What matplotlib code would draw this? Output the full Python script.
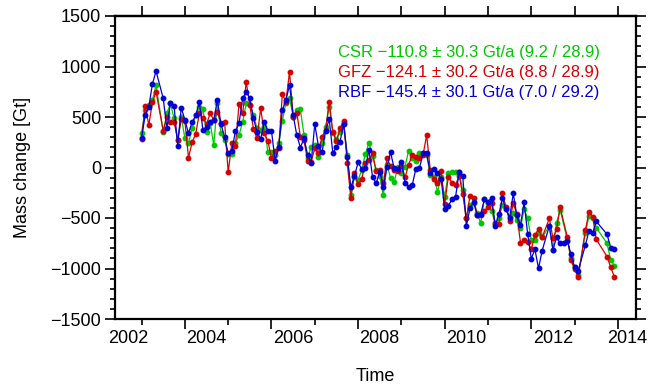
import numpy as np
import matplotlib.pyplot as plt
from matplotlib.ticker import MultipleLocator, NullFormatter

plt.rcParams['font.family'] = ['Liberation Sans', 'DejaVu Sans']

nan = np.nan

# monthly solutions, Jan 2003 .. Dec 2013 (nan = missing month)
time = 2003 + np.arange(132) / 12.0

csr = [345, 569, 619, 668, 813, nan, 351, 536, 635, 487, 272, 503,
       288, 239, 391, 520, 602, 576, 348, 444, 222, 635, 338, 272,
       133, 133, 239, 322, 447, 635, 619, 520, 388, 371, 404, 156,
       153, 127, 239, 463, 642, 688, 503, 569, 576, 322, 90, 206,
       223, 107, 239, 397, 602, 338, 279, 355, 437, 124, -273, -91,
       -124, -25, 130, 246, 114, -25, -84, -273, 25, -101, -144, 8,
       -58, 8, 166, 90, 64, 140, 140, 124, -75, -91, -240, -98,
       -289, -58, -48, -45, -48, -223, -504, -372, -355, -454, -553, -312,
       -355, -428, -560, -500, -372, -405, -487, -447, -520, -603, -414, -504,
       -718, -718, -645, -692, nan, -579, -817, -546, -421, nan, -718, -900,
       -982, -1065, nan, -645, -480, -504, -596, nan, nan, -751, -916, -972]

gfz = [282, 612, 420, 645, 750, nan, 364, 503, 454, 454, 272, 477,
       460, 97, 249, 331, 536, 493, 430, 536, 470, 553, 437, 450,
       -48, 239, 213, 625, 536, 846, 618, 381, 288, 586, 338, 262,
       91, 166, 190, 727, 651, 949, 503, 543, 305, 272, 67, 58,
       190, 140, 305, 371, 652, 355, 262, 388, 463, 41, -299, -51,
       -167, -117, 48, 74, 140, -35, -25, -157, 91, 15, -25, -32,
       18, -98, 25, 124, 107, 91, 124, 322, -25, -114, -150, -35,
       -362, -91, -150, -175, -80, -266, -504, -282, -299, -471, -471, -431,
       -388, -348, -553, -560, -256, -395, -530, -355, -461, -744, -718, -741,
       -810, -669, -609, -692, nan, -504, -702, -612, -395, nan, -692, -916,
       -1008, -1088, nan, -619, -438, -487, -711, nan, nan, -883, -989, -1080]

rbf = [292, 519, 602, 826, 955, nan, 684, 387, 642, 612, 216, 592,
       470, 338, 450, 516, 648, 371, 404, 454, 470, 668, 430, 298,
       140, 166, 358, 437, 684, 750, 684, 486, 355, 282, 454, 361,
       361, 67, 199, 569, 668, 816, 520, 322, 198, 288, 124, 48,
       430, 213, 150, 364, 477, 140, 206, 256, 430, 107, -197, -84,
       51, -15, -9, 173, -91, -157, -42, -197, 8, 150, -9, -18,
       58, -150, -190, -174, -15, -9, 140, 140, -51, -15, -51, -111,
       -414, -381, -315, -295, -46, -81, -579, -405, -339, -471, -457, -315,
       -339, -299, -579, -461, -306, -414, -497, -256, -474, -570, -345, -659,
       -903, -810, -999, -824, nan, -579, -817, -692, -751, -744, -725, -860,
       -989, -1022, nan, -768, -626, -652, -533, nan, nan, -662, -794, -807]

names = ['CSR', 'GFZ', 'RBF']
trend = [-110.8, -124.1, -145.4]
trend_err = [30.3, 30.2, 30.1]
stat_a = [9.2, 8.8, 7.0]
stat_b = [28.9, 28.9, 29.2]
colors = ['#00c800', '#d70000', '#0000d7']

year_labels = ['2002', '2004', '2006', '2008', '2010', '2012', '2014']

xmin, xmax = 2002.386, 2014.418

fig = plt.figure(figsize=(6.56, 3.87), dpi=100)
ax = fig.add_axes([115/656, 1 - 319/387, 521/656, 303/387])

for vals, c in zip([csr, gfz, rbf], colors):
    v = np.array(vals, dtype=float)
    ok = ~np.isnan(v)
    ax.plot(time[ok], v[ok], '-o', color=c, lw=0.9, ms=3.2, mec=c)

ax.set_xlim(xmin, xmax)
ax.set_ylim(-1500, 1500)

# frame
for s in ax.spines.values():
    s.set_linewidth(1.6)

ax.xaxis.set_major_locator(MultipleLocator(2))
ax.xaxis.set_minor_locator(MultipleLocator(1))
ax.xaxis.set_major_formatter(NullFormatter())
ax.yaxis.set_major_locator(MultipleLocator(500))
ax.yaxis.set_minor_locator(MultipleLocator(100))
ax.tick_params(axis='both', which='both', direction='out', width=1.2, labelsize=13)
ax.tick_params(axis='x', which='major', length=7.5)
ax.tick_params(axis='x', which='minor', length=4)
ax.tick_params(axis='y', which='major', length=7, right=True, pad=3)
ax.tick_params(axis='y', which='minor', length=3.5, right=True)

# top axis: plain yearly ticks
top = ax.secondary_xaxis('top')
top.xaxis.set_major_locator(MultipleLocator(1))
top.tick_params(direction='out', length=7, width=1.2, labeltop=False)
top.spines['top'].set_linewidth(1.6)

# year annotations sit in the middle of each (visible) year interval
for lab in year_labels:
    yr = int(lab)
    lo, hi = max(yr, xmin), min(yr + 1, xmax)
    ax.text((lo + hi) / 2, -0.063, lab, transform=ax.get_xaxis_transform(),
            ha='center', va='center', fontsize=13)

ax.set_xlabel('Time', fontsize=13)
ax.xaxis.set_label_coords(0.5, -0.191)
ax.xaxis.label.set_va('center')
ax.set_ylabel('Mass change [Gt]', fontsize=13)
ax.yaxis.set_label_coords(-0.1785, 0.5)
ax.yaxis.label.set_va('center')

for k in range(3):
    txt = f"{names[k]} \u2212{abs(trend[k]):.1f} \u00b1 {trend_err[k]:.1f} Gt/a ({stat_a[k]:.1f} / {stat_b[k]:.1f})"
    ax.text(0.428, 0.881 - 0.066 * k, txt, transform=ax.transAxes,
            ha='left', va='center', fontsize=12, color=colors[k])

fig.savefig('out.png', dpi=100)
